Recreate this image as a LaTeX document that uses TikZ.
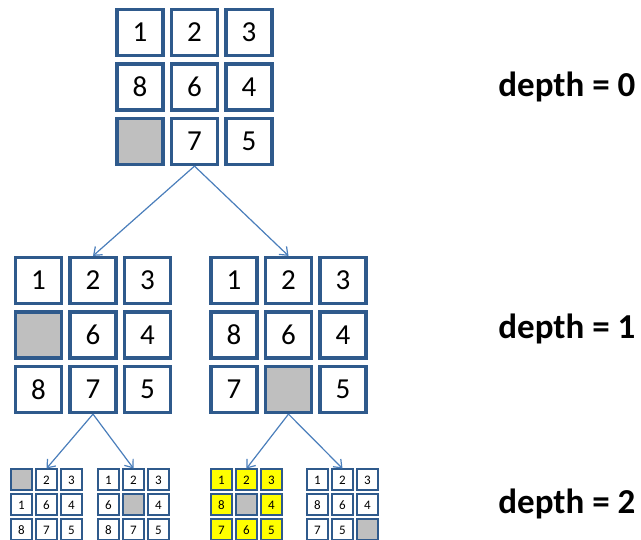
\documentclass[tikz,border=0pt]{standalone}
\usepackage{fontspec}
\setmainfont{Carlito}
\usetikzlibrary{arrows.meta}

\definecolor{vien}{HTML}{2F5A8C}
\definecolor{muiten}{HTML}{4A7EBB}
\definecolor{trong}{HTML}{BFBFBF}
\definecolor{vang}{HTML}{FFFF00}

\tikzset{
	every picture/.style={line width=0.75pt},
	o lon/.style={draw=vien,line width=3.2pt,minimum size=46pt,inner sep=0pt,
		font=\fontsize{29}{29}\selectfont},
	o nho/.style={draw=vien,line width=2pt,minimum size=21pt,inner sep=0pt,
		font=\fontsize{13}{13}\selectfont},
	nhan/.style={anchor=base west,inner sep=0pt,font=\fontsize{35}{35}\selectfont\bfseries},
}

% #1 ten, #2 #3 tam, #4 kieu o, #5 buoc, #6 cac o (so/mau)
\newcommand{\board}[6]{%
	\foreach \t/\f [count=\i from 0] in {#6}{
		\pgfmathtruncatemacro{\c}{mod(\i,3)-1}
		\pgfmathtruncatemacro{\r}{div(\i,3)-1}
		\node[#4,fill=\f] (#1-\i) at (#2+\c*#5,#3+\r*#5) {\t};
	}}

\begin{document}
\begin{tikzpicture}[x=1pt,y=-1pt,>={Straight Barb[length=7pt,width=11pt]}]
	\useasboundingbox (0,0) rectangle (641,540);
	\clip (0,0) rectangle (641,540);
	%Goc
	\board{b0}{194.5}{87}{o lon}{54.5}{1/white,2/white,3/white,8/white,6/white,4/white,/trong,7/white,5/white}
	%Do sau 1
	\board{b1}{93}{335}{o lon}{54.5}{1/white,2/white,3/white,/trong,6/white,4/white,8/white,7/white,5/white}
	\board{b2}{288.5}{335}{o lon}{54.5}{1/white,2/white,3/white,8/white,6/white,4/white,7/white,/trong,5/white}
	%Do sau 2
	\board{b11}{46.5}{505}{o nho}{25}{/trong,2/white,3/white,1/white,6/white,4/white,8/white,7/white,5/white}
	\board{b12}{133.5}{505}{o nho}{25}{1/white,2/white,3/white,6/white,/trong,4/white,8/white,7/white,5/white}
	\board{b21}{246.5}{505}{o nho}{25}{1/vang,2/vang,3/vang,8/vang,/trong,4/vang,7/vang,6/vang,5/vang}
	\board{b22}{342.5}{505}{o nho}{25}{1/white,2/white,3/white,8/white,6/white,4/white,7/white,5/white,/trong}
	%Mui ten
	\draw[->,muiten,line width=1.2pt] (b0-7.south) -- (b1-1.north);
	\draw[->,muiten,line width=1.2pt] (b0-7.south) -- (b2-1.north);
	\draw[->,muiten,line width=1.2pt] (b1-7.south) -- (b11-1.north);
	\draw[->,muiten,line width=1.2pt] (b1-7.south) -- (b12-1.north);
	\draw[->,muiten,line width=1.2pt] (b2-7.south) -- (b21-1.north);
	\draw[->,muiten,line width=1.2pt] (b2-7.south) -- (b22-1.north);
	%Nhan
	\node[nhan] (d0) at (498,97) {depth = 0};
	\node[nhan] (d1) at (498,339) {depth = 1};
	\node[nhan] (d2) at (498,514) {depth = 2};
\end{tikzpicture}
\end{document}
